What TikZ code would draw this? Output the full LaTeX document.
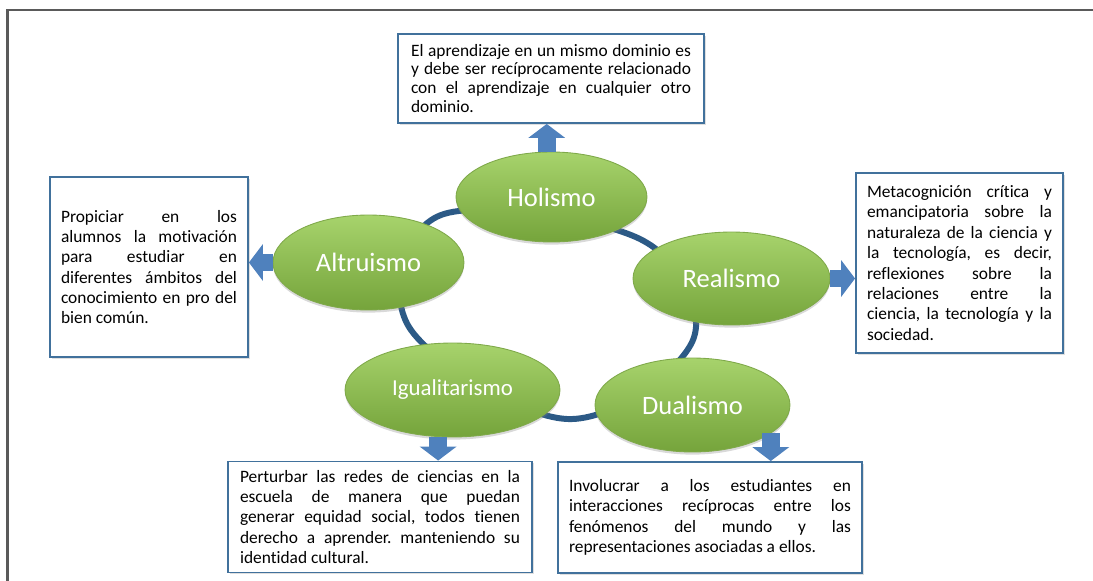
\documentclass[tikz,border=0pt]{standalone}
\usepackage{fontspec}
\setmainfont{Carlito}[Ligatures=NoCommon]
\usepackage{tikz}
\usetikzlibrary{shapes.geometric, arrows.meta, shadows}
\frenchspacing

\definecolor{ringblue}{HTML}{2C5A86}
\definecolor{arrowfill}{HTML}{4F81BD}
\definecolor{boxedge}{HTML}{41719C}
\definecolor{ovaltop}{HTML}{A7D36C}
\definecolor{ovalbot}{HTML}{75A43B}
\definecolor{ovaledge}{HTML}{7FA94A}
\definecolor{framegray}{HTML}{5A5A5A}

\begin{document}
\begin{tikzpicture}[x=0.02cm, y=-0.02cm,  % 1 unidad = 1 px
    idea/.style={ellipse, draw=ovaledge, line width=0.5pt, top color=ovaltop, bottom color=ovalbot,
        text=white, inner sep=0pt, font=\fontsize{15.1}{18}\selectfont,
        drop shadow={opacity=0.3, shadow xshift=0pt, shadow yshift=-1.5pt}},
    nota/.style={draw=boxedge, line width=1.1pt, fill=white, inner sep=0pt, align=justify,
        font=\fontsize{9.9}{11.6}\selectfont,
        drop shadow={opacity=0.25, shadow xshift=1pt, shadow yshift=-1pt}},
    flecha/.style={draw=arrowfill, line width=0.36cm, -{Triangle[width=0.74cm, length=0.28cm, line width=0pt]}},
    anillo/.style={draw=ringblue, line width=3.4pt}
    ]

    \useasboundingbox (0,0) rectangle (1093,581);
    \draw[framegray, line width=1.2pt] (7.5,581) -- (7.5,10) -- (1093,10);

    % anillo
    \coordinate (r1) at (441,215);
    \coordinate (r2) at (640,239);
    \coordinate (r3) at (693,340);
    \coordinate (r4) at (567,419);
    \coordinate (r5) at (409,327);
    \draw[anillo] plot[smooth cycle, tension=0.6] coordinates {(r1) (r2) (r3) (r4) (r5)};

    \node[idea, minimum width=3.82cm, minimum height=1.8cm] (holismo) at (551.5,197) {Holismo};
    \node[idea, minimum width=3.82cm, minimum height=1.9cm] (altruismo) at (368.5,262.5) {Altruismo};
    \node[idea, minimum width=3.94cm, minimum height=1.86cm] (realismo) at (731.5,278.5) {Realismo};
    \node[idea, minimum width=4.3cm, minimum height=1.88cm, font=\fontsize{13}{16}\selectfont] (igualitarismo) at (452.5,390) {Igualitarismo};
    \node[idea, minimum width=3.9cm, minimum height=1.88cm] (dualismo) at (692.5,405) {Dualismo};

    \node[nota, minimum width=6.12cm, minimum height=1.78cm, text width=5.6cm, font=\fontsize{9.9}{10.8}\selectfont] (holismoinfo) at (551,78.5)
        {El aprendizaje en un mismo dominio es\linebreak y debe ser recíprocamente relacionado\linebreak con el aprendizaje en cualquier otro\linebreak dominio.};
    \node[nota, minimum width=3.96cm, minimum height=3.6cm, text width=3.52cm] (altruismoinfo) at (149,267)
        {Propiciar en los\linebreak alumnos la motivación\linebreak para estudiar en\linebreak diferentes ámbitos del\linebreak conocimiento en pro del\linebreak bien común.};
    \node[nota, minimum width=4.14cm, minimum height=3.6cm, text width=3.7cm] (realismoinfo) at (959.5,263)
        {Metacognición crítica y\linebreak emancipatoria sobre la\linebreak naturaleza de la ciencia y\linebreak la tecnología, es decir,\linebreak reflexiones sobre la\linebreak relaciones entre la\linebreak ciencia, la tecnología y la\linebreak sociedad.};
    \node[nota, minimum width=6.08cm, minimum height=2.22cm, text width=5.6cm] (igualitarismoinfo) at (380,517)
        {Perturbar las redes de ciencias en la\linebreak escuela de manera que puedan\linebreak generar equidad social, todos tienen\linebreak derecho a aprender. manteniendo su\linebreak identidad cultural.};
    \node[nota, minimum width=6.08cm, minimum height=2.22cm, text width=5.64cm] (dualismoinfo) at (710,517.5)
        {Involucrar a los estudiantes en\linebreak interacciones recíprocas entre los\linebreak fenómenos del mundo y las\linebreak representaciones asociadas a ellos.};

    \draw[flecha] (holismo.96) -- (holismo.96 |- holismoinfo.south);
    \draw[flecha] (altruismo.west) -- (altruismo.west -| altruismoinfo.east);
    \draw[flecha] (realismo.east) -- (realismo.east -| realismoinfo.west);
    \draw[flecha] (igualitarismo.-107) -- (igualitarismo.-107 |- igualitarismoinfo.north);
    \draw[flecha] (dualismo.-20) -- (dualismo.-20 |- dualismoinfo.north);

\end{tikzpicture}
\end{document}
